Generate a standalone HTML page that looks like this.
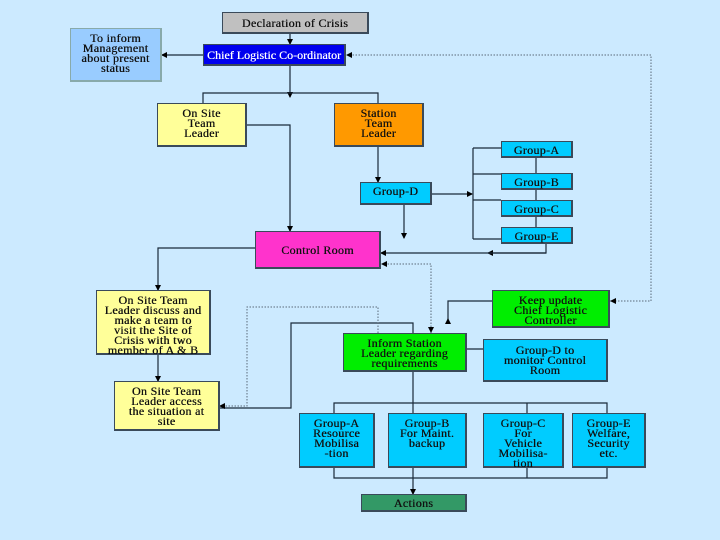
<!DOCTYPE html>
<html><head><meta charset="utf-8"><style>
body{margin:0;width:720px;height:540px;background:#cceaff;position:relative;overflow:hidden;font-family:"Liberation Serif",serif;}
.b{position:absolute;box-sizing:border-box;border:1px solid #3a4a5a;border-right-width:2px;border-bottom-width:2px;text-align:center;font-size:12px;line-height:10px;color:#111;padding-top:3px;white-space:nowrap;letter-spacing:0.3px;text-shadow:0.3px 0 0 currentColor;}
svg{position:absolute;left:0;top:0}
</style></head><body>
<svg width="720" height="540" viewBox="0 0 720 540">
<defs><marker id="a" markerWidth="6" markerHeight="6" refX="5" refY="3" orient="auto" markerUnits="userSpaceOnUse"><path d="M0,0L6,3L0,6z" fill="#000"/></marker></defs>
<g stroke="#1a2a3a" stroke-width="1.2" fill="none">
<path d="M290 33V44" marker-end="url(#a)"/>
<path d="M203 55H162" marker-end="url(#a)"/>
<path d="M290 65V97" marker-end="url(#a)"/>
<path d="M203 103V93H378V103"/>
<path d="M246 125H290V231" marker-end="url(#a)"/>
<path d="M378 146V182" marker-end="url(#a)"/>
<path d="M431 194H472" marker-end="url(#a)"/>
<path d="M473 148V239M473 148H501M473 174H501M473 200H501M473 239H501M536 157V227"/>
<path d="M404 204V238" marker-end="url(#a)"/>
<path d="M546 243V253H488" marker-end="url(#a)"/>
<path d="M546 253H381" marker-end="url(#a)"/>
<path d="M255 248H158V290" marker-end="url(#a)"/>
<path d="M158 354V381" marker-end="url(#a)"/>
<path d="M219 408H291V323H413V333"/>
<path d="M492 301H448V320"/>
<path d="M466 349H483"/>
<path d="M413 371V494" marker-end="url(#a)"/>
<path d="M334 413V403H607V413M334 467V478H607V467M527 403V413M527 467V478"/>
</g>
<g stroke="#5a6a7a" stroke-width="1" fill="none" stroke-dasharray="1.5,1.5">
<path d="M609 301H651V55H352"/>
<path d="M431 333V264H385"/>
<path d="M378 333V307H247V406H224"/>
</g>
<g fill="#000">
<path d="M346 55l6-3v6z"/><path d="M381 264l6-3v6z"/><path d="M219 406l6-3v6z"/><path d="M610 301l6-3v6z"/>
<path d="M428 327l3 6 3-6z"/><path d="M445 324l3-6 3 6z"/>
</g>
</svg>
<div class="b" style="left:222px;top:12px;width:147px;height:22px;background:#c0c0c0;padding-top:5px;">Declaration of Crisis</div>
<div class="b" style="left:70px;top:28px;width:92px;height:54px;background:#99ccff;border-color:#8aa;padding-top:4px;">To inform<br>Management<br>about present<br>status</div>
<div class="b" style="left:203px;top:44px;width:143px;height:22px;background:#0000ee;color:#fff;padding-top:5px;letter-spacing:0;">Chief Logistic Co-ordinator</div>
<div class="b" style="left:157px;top:103px;width:90px;height:44px;background:#ffff99;padding-top:4px;">On Site<br>Team<br>Leader</div>
<div class="b" style="left:334px;top:103px;width:90px;height:44px;background:#ff9900;padding-top:4px;">Station<br>Team<br>Leader</div>
<div class="b" style="left:501px;top:141px;width:72px;height:17px;background:#00ccff;padding-top:3px;">Group-A</div>
<div class="b" style="left:501px;top:173px;width:72px;height:17px;background:#00ccff;padding-top:3px;">Group-B</div>
<div class="b" style="left:501px;top:200px;width:72px;height:17px;background:#00ccff;padding-top:3px;">Group-C</div>
<div class="b" style="left:501px;top:227px;width:72px;height:17px;background:#00ccff;padding-top:3px;">Group-E</div>
<div class="b" style="left:360px;top:182px;width:72px;height:23px;background:#00ccff;">Group-D</div>
<div class="b" style="left:255px;top:231px;width:126px;height:38px;background:#ff33cc;padding-top:13px;">Control Room</div>
<div class="b" style="left:96px;top:290px;width:115px;height:65px;background:#ffff99;padding-top:4px;">On Site Team<br>Leader discuss and<br>make a team to<br>visit the Site of<br>Crisis with two<br>member of A &amp; B</div>
<div class="b" style="left:114px;top:381px;width:106px;height:50px;background:#ffff99;padding-top:4px;">On Site Team<br>Leader access<br>the situation at<br>site</div>
<div class="b" style="left:492px;top:290px;width:118px;height:38px;background:#00ee00;padding-top:4px;">Keep update<br>Chief Logistic<br>Controller</div>
<div class="b" style="left:343px;top:333px;width:124px;height:39px;background:#00ee00;padding-top:4px;">Inform Station<br>Leader regarding<br>requirements</div>
<div class="b" style="left:483px;top:339px;width:125px;height:43px;background:#00ccff;padding-top:5px;">Group-D to<br>monitor Control<br>Room</div>
<div class="b" style="left:299px;top:413px;width:76px;height:55px;background:#00ccff;padding-top:4px;">Group-A<br>Resource<br>Mobilisa<br>-tion</div>
<div class="b" style="left:388px;top:413px;width:79px;height:55px;background:#00ccff;padding-top:4px;">Group-B<br>For Maint.<br>backup</div>
<div class="b" style="left:483px;top:413px;width:81px;height:55px;background:#00ccff;padding-top:4px;">Group-C<br>For<br>Vehicle<br>Mobilisa-<br>tion</div>
<div class="b" style="left:572px;top:413px;width:74px;height:55px;background:#00ccff;padding-top:4px;">Group-E<br>Welfare,<br>Security<br>etc.</div>
<div class="b" style="left:361px;top:494px;width:106px;height:18px;background:#339966;padding-top:3px;">Actions</div>
</body></html>
